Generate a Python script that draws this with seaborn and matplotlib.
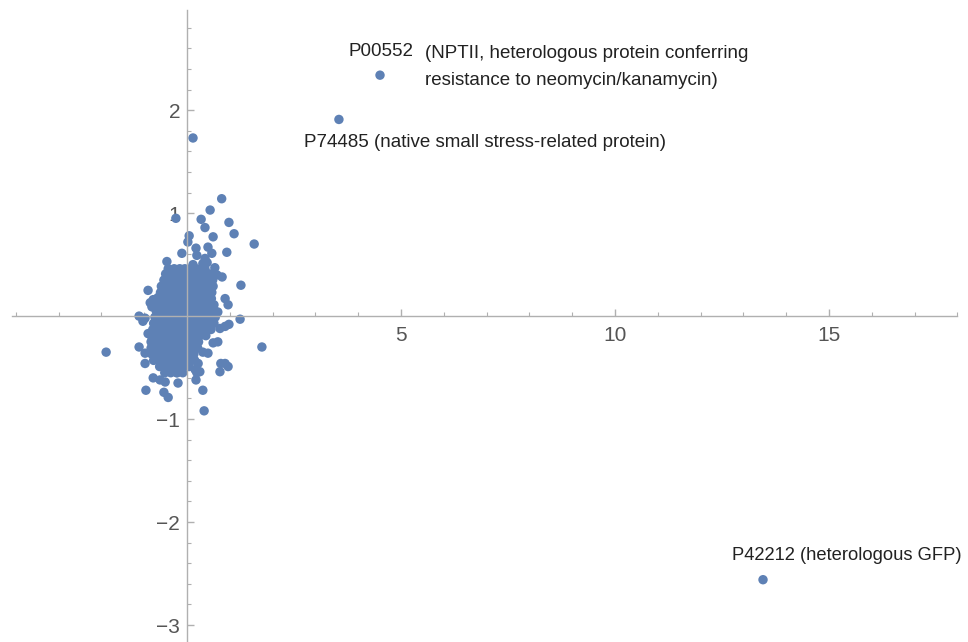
import matplotlib
matplotlib.use("Agg")
import matplotlib.pyplot as plt
import seaborn as sns
import pandas as pd
from matplotlib.ticker import FixedLocator, FuncFormatter

# ---------------- data ----------------
# dense core of the cluster
core_x = [
    -0.44, -0.30, -0.17, -0.05, 0.08, 0.21, 0.33, 0.42,
    -0.50, -0.37, -0.22, -0.10, 0.03, 0.15, 0.29, 0.41, 0.53,
    -0.54, -0.41, -0.28, -0.14, 0.00, 0.12, 0.26, 0.38, 0.50, 0.60,
    -0.60, -0.46, -0.33, -0.19, -0.06, 0.08, 0.21, 0.34, 0.47, 0.61,
    -0.62, -0.49, -0.35, -0.21, -0.08, 0.05, 0.18, 0.32, 0.45, 0.58,
    -0.66, -0.52, -0.38, -0.25, -0.11, 0.02, 0.16, 0.30, 0.43, 0.57,
    -0.70, -0.56, -0.42, -0.28, -0.14, -0.01, 0.13, 0.27, 0.40, 0.54, 0.63,
    -0.72, -0.58, -0.44, -0.31, -0.17, -0.03, 0.10, 0.24, 0.38, 0.52, 0.65,
    -0.75, -0.61, -0.47, -0.33, -0.19, -0.06, 0.08, 0.22, 0.36, 0.50, 0.66,
    -0.78, -0.64, -0.50, -0.36, -0.22, -0.08, 0.06, 0.20, 0.34, 0.48, 0.63,
    -0.80, -0.66, -0.52, -0.38, -0.24, -0.10, 0.04, 0.18, 0.32, 0.46, 0.56,
    -0.82, -0.68, -0.54, -0.40, -0.26, -0.12, 0.02, 0.16, 0.30, 0.44,
    -0.84, -0.70, -0.56, -0.42, -0.28, -0.14, 0.00, 0.14, 0.27,
    -0.84, -0.70, -0.56, -0.42, -0.28, -0.14, 0.00, 0.14, 0.25,
    -0.82, -0.68, -0.54, -0.40, -0.26, -0.12, 0.02, 0.16,
    -0.78, -0.64, -0.50, -0.36, -0.22, -0.08, 0.06, 0.18,
    -0.64, -0.50, -0.36, -0.22, -0.08, 0.05,
    -0.52, -0.38, -0.24, -0.10,
]
core_y = (
    [0.46] * 8 + [0.41] * 9 + [0.35] * 10 + [0.29] * 10 + [0.23] * 10 + [0.17] * 10
    + [0.11] * 11 + [0.05] * 11 + [-0.01] * 11 + [-0.07] * 11 + [-0.13] * 11
    + [-0.19] * 10 + [-0.25] * 9 + [-0.31] * 9 + [-0.37] * 8 + [-0.43] * 8
    + [-0.49] * 6 + [-0.55] * 4
)

# scattered points around the core
outer_x = [0.81, 0.54, -0.26, 0.33, 0.42, 0.98, 1.10, 1.57, 0.05, 0.02, 0.61, 0.21,
           -0.12, 0.49, 0.93, 0.23, 0.42, 0.58, 0.37, 0.47, -0.47, 0.14, 0.65, 0.70,
           0.82, 1.26, -0.91, -0.68, -0.86, -0.82, -1.12, -0.98, -1.03, 0.89, 0.96,
           0.72, 1.24, -1.89, 1.75, 0.89, 0.98, 0.77, -0.86, -0.91, -1.12, -0.98,
           -0.98, 0.72, 0.61, 0.37, 0.49, 0.79, 0.89, 0.96, 0.77, 0.26, 0.30, 0.21,
           -0.79, -0.63, -0.51, -0.21, -0.96, -0.54, -0.44, 0.37, 0.40, -0.33, -0.23,
           0.19, 0.23, 0.14, -0.79, -0.68]
outer_y = [1.14, 1.03, 0.95, 0.94, 0.86, 0.91, 0.80, 0.70, 0.78, 0.72, 0.77, 0.66,
           0.61, 0.67, 0.62, 0.59, 0.56, 0.61, 0.51, 0.52, 0.53, 0.50, 0.47, 0.40,
           0.38, 0.30, 0.25, 0.18, 0.13, 0.09, 0.00, -0.02, -0.05, 0.17, 0.11,
           0.04, -0.03, -0.35, -0.30, -0.10, -0.08, -0.12, -0.18, -0.17, -0.30, -0.36,
           -0.46, -0.25, -0.26, -0.35, -0.36, -0.46, -0.46, -0.49, -0.54, -0.46, -0.54, -0.62,
           -0.60, -0.62, -0.64, -0.65, -0.72, -0.74, -0.79, -0.72, -0.92, -0.50, -0.55,
           -0.52, -0.55, 1.73, 0.16, 0.11]

# labelled proteins
label_ids = ["P00552", "P74485", "P42212"]
label_x = [4.51, 3.55, 13.46]
label_y = [2.34, 1.91, -2.56]
label_desc = ["(NPTII, heterologous protein conferring\nresistance to neomycin/kanamycin)",
              "(native small stress-related protein)",
              "(heterologous GFP)"]

x_major = [5, 10, 15]
y_major = [-3, -2, -1, 1, 2]

# ---------------- plot ----------------
sns.set_style("white")
plt.rcParams["font.family"] = ["Liberation Sans", "DejaVu Sans"]

df = pd.DataFrame({
    "x": core_x + outer_x + label_x,
    "y": core_y + outer_y + label_y,
})

BLUE = "#5E81B5"
AXC = "#b0b0b0"
TXT = "#555555"

fig = plt.figure(figsize=(9.68, 6.42), dpi=100)
ax = fig.add_axes([0, 0, 1, 1])
sns.scatterplot(data=df, x="x", y="y", color=BLUE, s=46, linewidth=0,
                edgecolor="none", ax=ax, legend=False)

ax.set_xlim(-4.37, 18.25)
ax.set_ylim(-3.165, 3.07)
ax.set_xlabel("")
ax.set_ylabel("")

for s in ["top", "right"]:
    ax.spines[s].set_visible(False)
ax.spines["left"].set_position(("data", 0))
ax.spines["bottom"].set_position(("data", 0))
ax.spines["bottom"].set_bounds(-4.1, 18.0)
ax.spines["left"].set_bounds(-3.2, 2.97)
for s in ["left", "bottom"]:
    ax.spines[s].set_color(AXC)
    ax.spines[s].set_linewidth(1.0)

x_minor = [v for v in range(-4, 19) if v not in (0, 5, 10, 15)]
y_minor = [round(-3.2 + 0.2 * i, 1) for i in range(31)]
y_minor = [v for v in y_minor if abs(v) > 1e-9 and v not in y_major and v <= 2.9]

ax.xaxis.set_major_locator(FixedLocator(x_major))
ax.xaxis.set_minor_locator(FixedLocator(x_minor))
ax.yaxis.set_major_locator(FixedLocator(y_major))
ax.yaxis.set_minor_locator(FixedLocator(y_minor))
fmt = FuncFormatter(lambda v, p: f"{int(v)}".replace("-", "\u2212"))
ax.xaxis.set_major_formatter(fmt)
ax.yaxis.set_major_formatter(fmt)

ax.tick_params(axis="both", which="both", bottom=True, left=True, top=False,
               right=False)
ax.tick_params(axis="both", which="major", direction="in", length=5, width=1.0,
               color=AXC, labelcolor=TXT, labelsize=15)
ax.tick_params(axis="both", which="minor", direction="in", length=3, width=0.8,
               color=AXC)
ax.tick_params(axis="x", which="major", pad=7)
ax.tick_params(axis="y", which="major", pad=5)

# annotations
TC = "#222222"
ax.annotate(label_ids[0], xy=(label_x[0], label_y[0]), xytext=(-32, 24),
            textcoords="offset pixels", ha="left", va="center", fontsize=13.5,
            color=TC)
ax.annotate(label_desc[0], xy=(label_x[0], label_y[0]), xytext=(45, 8),
            textcoords="offset pixels", ha="left", va="center", fontsize=13.5,
            color=TC, linespacing=1.8)
ax.annotate(label_ids[1] + " " + label_desc[1], xy=(label_x[1], label_y[1]),
            xytext=(-35, -23), textcoords="offset pixels", ha="left", va="center",
            fontsize=13.5, color=TC)
ax.annotate(label_ids[2] + " " + label_desc[2], xy=(label_x[2], label_y[2]),
            xytext=(-31, 24), textcoords="offset pixels", ha="left", va="center",
            fontsize=13.2, color=TC)

fig.savefig("out.png", dpi=100)
